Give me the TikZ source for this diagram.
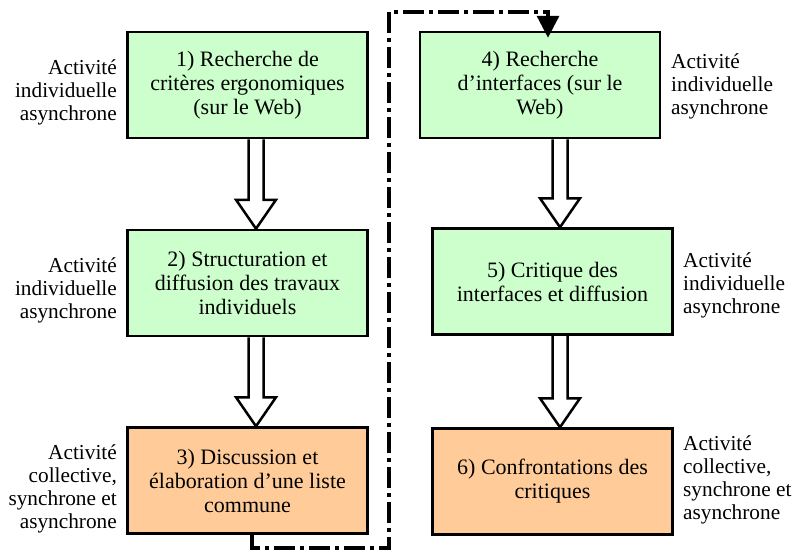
\documentclass[tikz,border=0pt]{standalone}
\usepackage{fontspec}
\setmainfont{Liberation Serif}
\usetikzlibrary{arrows.meta,calc}

\definecolor{vert}{HTML}{CCFFCC}
\definecolor{peche}{HTML}{FFCC99}

\newcommand{\hollowarrow}[3]{%
  \draw[fatarrow] let \p1=(#1.south), \p2=(#2.north), \p3=(#3,0) in
    (\x3-7.5pt,\y1) -- (\x3-7.5pt,\y2+29pt) -- (\x3-20pt,\y2+29pt)
    -- (\x3,\y2) -- (\x3+20pt,\y2+29pt) -- (\x3+7.5pt,\y2+29pt)
    -- (\x3+7.5pt,\y1);}

\begin{document}
\begin{tikzpicture}[x=1pt, y=-1pt,
    box/.style={font=\fontsize{22}{24}\selectfont, draw, line width=2.5pt,
                align=center, minimum width=240pt, minimum height=106pt},
    indiv/.style={box, fill=vert},
    collect/.style={box, fill=peche},
    lab/.style={font=\fontsize{21.3}{23}\selectfont, inner sep=0pt},
    leftlab/.style={lab, align=right, anchor=east},
    rightlab/.style={lab, align=left, anchor=west},
    fatarrow/.style={line width=2.5pt, line join=miter},
    flowline/.style={line width=3.3pt, line join=miter,
                     dash pattern=on 21pt off 5pt on 4pt off 5pt,
                     -{Triangle[width=22pt,length=22pt]}}]
  \useasboundingbox (0,0) rectangle (792,549);

  \node[indiv] (b1) at (247.5,85) {1) Recherche de\\critères ergonomiques\\(sur le Web)};
  \node[indiv] (b2) at (247.5,283) {2) Structuration et\\diffusion des travaux\\individuels};
  \node[collect] (b3) at (247.5,480.5) {3) Discussion et\\élaboration d’une liste\\commune};
  \node[indiv] (b4) at (540,85) {4) Recherche\\d’interfaces (sur le\\Web)};
  \node[indiv] (b5) at (552.5,281.5) {5) Critique des\\interfaces et diffusion};
  \node[collect] (b6) at (552.5,481.5) {6) Confrontations des\\critiques};

  \node[leftlab] (l1) at (117,92) {Activité\\individuelle\\asynchrone};
  \node[leftlab] (l2) at (117,290) {Activité\\individuelle\\asynchrone};
  \node[leftlab] (l3) at (117,489) {Activité\\collective,\\synchrone et\\asynchrone};
  \node[rightlab] (l4) at (671,86) {Activité\\individuelle\\asynchrone};
  \node[rightlab] (l5) at (683,285) {Activité\\individuelle\\asynchrone};
  \node[rightlab] (l6) at (683,480) {Activité\\collective,\\synchrone et\\asynchrone};

  \foreach \src/\dst/\ax in {b1/b2/256, b2/b3/256, b4/b5/560, b5/b6/560}
    \hollowarrow{\src}{\dst}{\ax};

  \coordinate (c1) at (252,548);
  \coordinate (c2) at (389,548);
  \coordinate (c3) at (389,12);
  \coordinate (c4) at (548,12);
  \draw[flowline] (b3.south -| c1) -- (c1) -- (c2) -- (c3) -- (c4)
    -- ([yshift=-7pt]c4 |- b4.north);
\end{tikzpicture}
\end{document}
